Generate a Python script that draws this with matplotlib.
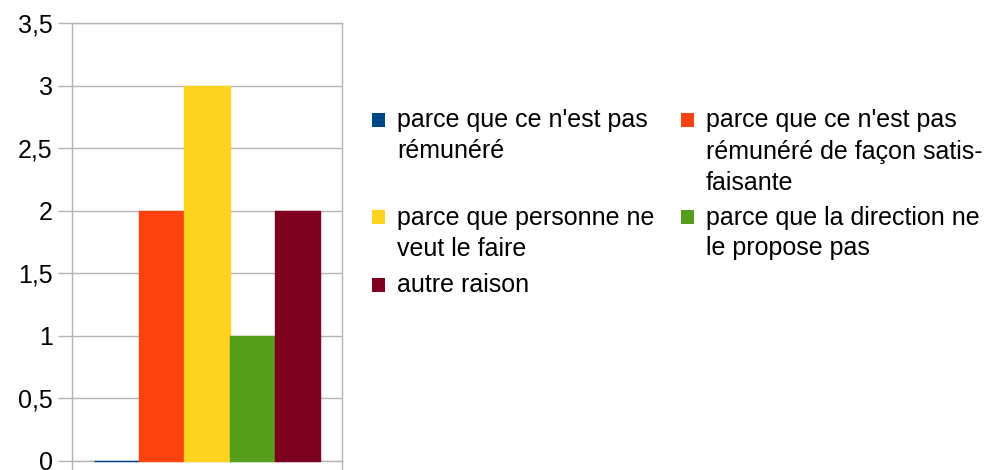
import numpy as np
import matplotlib.pyplot as plt
from matplotlib.patches import Rectangle

plt.rcParams['font.family'] = ['Liberation Sans', 'DejaVu Sans']

# Données
raisons = ["parce que ce n'est pas\nrémunéré",
           "parce que ce n'est pas\nrémunéré de façon satis-\nfaisante",
           "parce que personne ne\nveut le faire",
           "parce que la direction ne\nle propose pas",
           "autre raison"]
valeurs = [0, 2, 3, 1, 2]
couleurs = ['#004586', '#ff420e', '#ffd320', '#579d1c', '#7e0021']
yticks = [0, 0.5, 1, 1.5, 2, 2.5, 3, 3.5]
ytick_labels = ['0', '0,5', '1', '1,5', '2', '2,5', '3', '3,5']

W, H = 992, 470
fig = plt.figure(figsize=(W / 100, H / 100), dpi=100)
ax = fig.add_axes([72 / W, (H - 461) / H, 270 / W, 438 / H])

x = np.arange(len(valeurs))
barres = ax.bar(x, valeurs, width=1.0, color=couleurs, edgecolor=couleurs,
                linewidth=1.0, zorder=3)
for b in barres:
    b.set_clip_on(False)

ax.set_xlim(-0.987, len(valeurs) - 1 + 0.987)
ax.set_ylim(0, 3.5)
ax.set_yticks(yticks)
ax.set_yticklabels(ytick_labels, fontsize=18)
ax.set_xticks([-0.987, len(valeurs) - 1 + 0.987])
ax.set_xticklabels([])
ax.tick_params(axis='both', direction='out', length=10, color='#b3b3b3', width=1, pad=4)
ax.grid(axis='y', color='#b3b3b3', linewidth=1, zorder=0)
for s in ax.spines.values():
    s.set_color('#b3b3b3')
    s.set_linewidth(1)
    s.set_zorder(1)

# Légende dessinée à la main (disposition par lignes)
col_x = [372, 681]
row_y = [120, 217, 285]
line_h = 31
for i, (lab, c) in enumerate(zip(raisons, couleurs)):
    cx = col_x[i % 2]
    cy = row_y[i // 2]
    fig.patches.append(Rectangle((cx / W, (H - cy - 7) / H), 13 / W, 14 / H,
                                 transform=fig.transFigure, facecolor=c, edgecolor='none'))
    for j, ligne in enumerate(lab.split('\n')):
        fig.text((cx + 25) / W, (H - (cy + j * line_h) - 7.5) / H, ligne,
                 fontsize=18, va='baseline', ha='left')

fig.savefig('out.png', dpi=100)
